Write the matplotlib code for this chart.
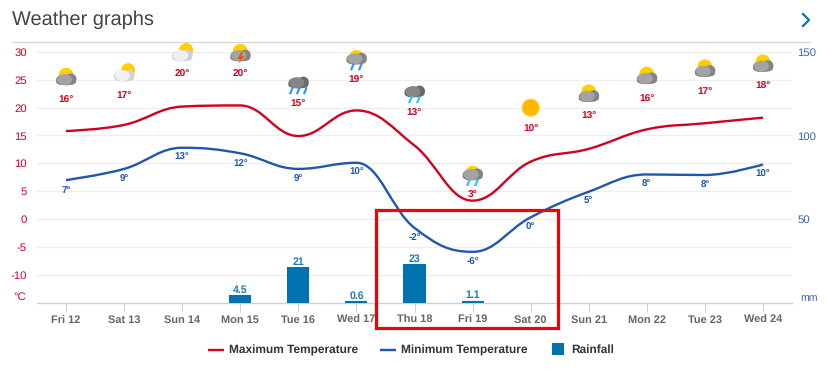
import matplotlib
matplotlib.use('Agg')
import matplotlib.pyplot as plt
from matplotlib.lines import Line2D
from matplotlib.patches import Circle, Ellipse, PathPatch, Polygon, Rectangle
from matplotlib.path import Path
from matplotlib.transforms import Affine2D

plt.rcParams['font.family'] = ['Liberation Sans', 'DejaVu Sans']
plt.rcParams['text.hinting'] = 'no_hinting'

days = ['Fri 12', 'Sat 13', 'Sun 14', 'Mon 15', 'Tue 16', 'Wed 17', 'Thu 18',
        'Fri 19', 'Sat 20', 'Sun 21', 'Mon 22', 'Tue 23', 'Wed 24']
max_temp = [15.8, 16.9, 20.2, 20.4, 14.9, 19.5, 13.2, 3.3, 10.3, 12.6, 16.1, 17.2, 18.2]
min_temp = [7.0, 9.0, 12.8, 11.8, 9.0, 10.1, -1.6, -5.9, 0.3, 4.9, 8.0, 7.9, 9.8]
max_labels = ['16°', '17°', '20°', '20°', '15°', '19°', '13°', '3°', '10°', '13°', '16°', '17°', '18°']
min_labels = ['7°', '9°', '13°', '12°', '9°', '10°', '-2°', '-6°', '0°', '5°', '8°', '8°', '10°']
rain = [0, 0, 0, 4.5, 21, 0.6, 23, 1.1, 0, 0, 0, 0, 0]
rain_labels = ['', '', '', '4.5', '21', '0.6', '23', '1.1', '', '', '', '', '']
# where icons and their red labels sit, on the temperature scale
icon_level = [25.5, 26.2, 29.8, 29.8, 24.4, 28.7, 22.8, 7.9, 20.0, 22.5, 25.7, 27.0, 27.9]
max_label_level = [21.3, 22.2, 26.0, 26.0, 20.6, 24.9, 18.9, 4.2, 16.1, 18.4, 21.5, 22.9, 23.8]
icon_kind = ['sun_dark', 'sun_light', 'sun_light', 'storm', 'rain3', 'sun_rain', 'sleet',
             'sun_snow', 'sun', 'sun_dark', 'sun_dark', 'sun_dark', 'sun_dark']
temp_ticks = [-10, -5, 0, 5, 10, 15, 20, 25, 30]
rain_ticks = [50, 100, 150]

RED = '#d0021f'
BLUE = '#2056ae'
BAR = '#0072b0'
W, H = 826, 369


def px(x, y):
    return x / W, 1 - y / H


def spline(xs, ys):
    # same smoothing the web chart uses
    verts = [(xs[0], ys[0])]
    codes = [Path.MOVETO]
    right = (xs[0], ys[0])
    for i in range(1, len(xs)):
        x, y = xs[i], ys[i]
        if i < len(xs) - 1:
            px_, py_, nx, ny = xs[i - 1], ys[i - 1], xs[i + 1], ys[i + 1]
            lx = (1.5 * x + px_) / 2.5
            ly = (1.5 * y + py_) / 2.5
            rx = (1.5 * x + nx) / 2.5
            ry = (1.5 * y + ny) / 2.5
            c = (ry - ly) * (rx - x) / (rx - lx) + y - ry
            ly += c
            ry += c
            if ly > py_ and ly > y:
                ly = max(py_, y)
                ry = 2 * y - ly
            elif ly < py_ and ly < y:
                ly = min(py_, y)
                ry = 2 * y - ly
            if ry > ny and ry > y:
                ry = max(ny, y)
                ly = 2 * y - ry
            elif ry < ny and ry < y:
                ry = min(ny, y)
                ly = 2 * y - ry
        else:
            lx, ly, rx, ry = x, y, x, y
        verts += [right, (lx, ly), (x, y)]
        codes += [Path.CURVE4, Path.CURVE4, Path.CURVE4]
        right = (rx, ry)
    return Path(verts, codes)


def draw_icon(ax, fig, i, level, kind):
    cx, cy = ax.transData.transform((i, level))
    tr = Affine2D().translate(cx, cy)

    def add(p):
        p.set_transform(tr)
        p.set_clip_on(False)
        p.set_zorder(6)
        fig.add_artist(p)

    if kind == 'sun':
        add(Circle((0, 0), 8.5, fc='#ffb800', ec='#ffd23c', lw=0.8))
        return
    base, top = '#838388', '#a3a3a7'
    if kind == 'sun_light':
        base, top = '#d2d2d2', '#f0f0f0'
    if kind in ('rain3', 'sleet'):
        base, top = '#69696d', '#85868a'
    # clouds with rain under them sit a little higher
    dy = 3 if kind in ('rain3', 'sleet', 'sun_rain', 'sun_snow') else 0
    if kind == 'sun_light':
        add(Circle((4, 3), 7, fc='#ffcf00', ec='none'))
    elif kind.startswith('sun_') or kind == 'storm':
        add(Circle((0, 2), 7.3, fc='#ffcf00', ec='none'))
    # dark body with a lighter puff on it
    add(Ellipse((5, dy - 2), 11, 11, fc=base, ec='none'))
    add(Ellipse((-4, dy - 3), 12, 10, fc=base, ec='none'))
    add(Ellipse((0, dy - 5), 20, 6.5, fc=base, ec='none'))
    add(Ellipse((-1.5, dy - 2.5), 15, 11, fc=top, ec='none'))
    if kind == 'storm':
        add(Polygon([(1, 1), (-3, -6), (0, -6), (-2, -11), (4, -3), (1, -3), (3, 1)],
                    fc='#f8500a', ec='none'))
    drops = {'rain3': ([-7, 0, 7], '#3d94f0'), 'sun_rain': ([-4, 4], '#3d94f0'),
             'sleet': ([-4, 4], '#35c0f5'), 'sun_snow': ([-4, 4], '#35c0f5')}
    if kind in drops:
        xs, col = drops[kind]
        for dx in xs:
            add(Line2D([dx + 1, dx - 1], [dy - 8, dy - 13], color=col, lw=1.6))


fig = plt.figure(figsize=(W / 100, H / 100), dpi=100, facecolor='white')
ax = fig.add_axes([37 / W, 1 - 302.5 / H, (792 - 37) / W, (302.5 - 52) / H])
ax2 = ax.twinx()
x = list(range(len(days)))

ax.set_xlim(-0.5, 12.5)
ax.set_ylim(-15, 30)
ax2.set_ylim(0, 150)
ax.set_zorder(1)
ax2.set_zorder(2)
ax2.patch.set_visible(False)

for s in ax.spines.values():
    s.set_visible(False)
for s in ax2.spines.values():
    s.set_visible(False)
ax.spines['bottom'].set_visible(True)
ax.spines['bottom'].set_color('#c6d0e6')
ax.spines['bottom'].set_linewidth(1)

ax.grid(axis='y', color='#eeeeee', lw=1)
ax.set_axisbelow(True)
ax.set_yticks(temp_ticks)
ax.set_yticklabels([str(t) for t in temp_ticks])
ax.tick_params(axis='y', length=0, labelcolor=RED, labelsize=8.2, pad=7.4)
ax.set_xticks(x)
ax.set_xticklabels(days, fontweight='bold')
ax.tick_params(axis='x', length=6.5, width=0.8, color='#c6d0e6', labelcolor='#666666',
               labelsize=7.9, pad=2.6)
ax2.set_yticks(rain_ticks)
ax2.set_yticklabels([str(t) for t in rain_ticks])
ax2.tick_params(axis='y', length=0, labelcolor='#3a62b4', labelsize=8.2, pad=3.8)

fig.text(*px(26, 297), '°C', color=RED, fontsize=8.2, ha='right', va='center')
fig.text(*px(800, 298), 'mm', color='#3a62b4', fontsize=7.6, ha='left', va='center')

# rainfall
ax2.bar(x, rain, width=0.38, color=BAR, zorder=2)
for i in x:
    if rain_labels[i]:
        ax2.annotate(rain_labels[i], (i, rain[i]), xytext=(0, 0.2), textcoords='offset points',
                     ha='center', va='bottom', color='#1a7db8', fontsize=7.6, fontweight='bold')

# temperature lines
ax.add_patch(PathPatch(spline(x, max_temp), fc='none', ec=RED, lw=1.7, zorder=4))
ax.add_patch(PathPatch(spline(x, min_temp), fc='none', ec=BLUE, lw=1.7, zorder=4))

for i in x:
    ax.annotate(min_labels[i], (i, min_temp[i]), xytext=(0, -7.2), textcoords='offset points',
                ha='center', va='center', color=BLUE, fontsize=7, fontweight='bold')
    ax.text(i, max_label_level[i], max_labels[i], ha='center', va='center', color=RED,
            fontsize=7.3, fontweight='bold', zorder=5)
    draw_icon(ax, fig, i, icon_level[i], icon_kind[i])

# page furniture
fig.text(*px(12, 20), 'Weather graphs', fontsize=14.4, color='#444444', ha='left', va='center')
fig.add_artist(Line2D([12 / W, 810 / W], [1 - 41.5 / H] * 2, color='#d9d9d9', lw=1))
fig.add_artist(Line2D([803 / W, 809 / W, 803 / W],
                      [1 - 14 / H, 1 - 20 / H, 1 - 26 / H], color='#0a74b0', lw=1.6))
fig.add_artist(Rectangle(px(375.5, 327.5), 182 / W, 118 / H, transform=fig.transFigure,
                         fc='none', ec='#f40000', lw=2.3, zorder=8))

# legend by hand, the built-in one puts the three labels on different baselines
legend_names = ['Maximum Temperature', 'Minimum Temperature', 'Rainfall']
legend_text_x = [229, 401, 571]
legend_text_y = [354, 354, 353]
for name, tx, ty in zip(legend_names, legend_text_x, legend_text_y):
    fig.text(*px(tx, ty), name, fontsize=8.6, fontweight='bold', color='#333333',
             ha='left', va='baseline')
for col, x0 in zip([RED, BLUE], [208, 380]):
    fig.add_artist(Line2D([x0 / W, (x0 + 16) / W], [1 - 349.5 / H] * 2, color=col, lw=1.7,
                          solid_capstyle='butt'))
fig.add_artist(Rectangle(px(552, 355), 12 / W, 12 / H, transform=fig.transFigure, fc=BAR, ec='none'))

fig.savefig('out.png', dpi=100)
